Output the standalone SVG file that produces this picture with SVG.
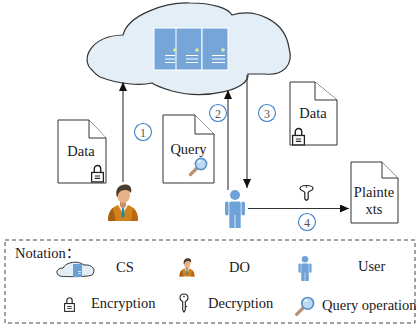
<svg xmlns="http://www.w3.org/2000/svg" xmlns:xlink="http://www.w3.org/1999/xlink" width="419" height="329" viewBox="0 0 419 329">
  <style>
    .txt { font-family: "Liberation Serif", "Times New Roman", "Noto Sans CJK SC", serif; font-size: 14.5px; fill: #1a1a1a; }
    .num { font-family: "Liberation Serif", "Times New Roman", serif; font-size: 12px; fill: #555; text-anchor: middle; }
    .doc { fill: #fff; stroke: #333; stroke-width: 1; }
    .conn { stroke: #333; stroke-width: 1.1; fill: none; }
    .badge { fill: #fff; stroke: #3f7fc6; stroke-width: 1.1; }
    .panel { fill: #76a6d8; stroke: #fff; stroke-width: 1; }
    .bar { stroke: #fff; stroke-width: 1; }
  </style>
  <defs>
    <marker id="arrow" markerUnits="userSpaceOnUse" markerWidth="9" markerHeight="8" refX="9" refY="4" orient="auto">
      <path d="M0,0 L9,4 L0,8 Z" fill="#111"/>
    </marker>
    <!-- data owner: business person -->
    <symbol id="do" viewBox="0 0 32 38">
      <path d="M1,38 C1,29 5,24 11,22 L21,22 C27,24 31,29 31,38 Z" fill="#d3811c"/>
      <path d="M1,38 C1,31 3,27 6,25 L9,38 Z" fill="#a9600e"/>
      <path d="M31,38 C31,31 29,27 26,25 L24,38 Z" fill="#b86a12"/>
      <path d="M11,22 L16,31 L21,22 Z" fill="#f4f4f4"/>
      <path d="M15,24 L17,24 L17.6,33 L16,35 L14.4,33 Z" fill="#1c8a9e"/>
      <path d="M13,17 L19,17 L19,23 L16,26 L13,23 Z" fill="#c98d63"/>
      <ellipse cx="16.5" cy="12" rx="6.5" ry="8" fill="#e8b287"/>
      <path d="M9.5,13 C8,4 14,1 19,1.5 C24,2 25,6 24,10 C22,7 18,6 14,8 C12,9 11,11 10.5,14 Z" fill="#4b3c30"/>
    </symbol>
    <!-- user: plain figure -->
    <symbol id="user" viewBox="0 0 20 38">
      <circle cx="10" cy="5" r="5" fill="#6fa3d8"/>
      <rect x="0" y="11.5" width="3.6" height="14" rx="1.8" fill="#6fa3d8"/>
      <rect x="16.4" y="11.5" width="3.6" height="14" rx="1.8" fill="#6fa3d8"/>
      <path d="M4.3,13 Q4.3,11.5 6,11.5 L14,11.5 Q15.7,11.5 15.7,13 L15.7,25 L4.3,25 Z" fill="#6fa3d8"/>
      <rect x="4.3" y="24" width="5.3" height="14" fill="#6fa3d8"/>
      <rect x="10.4" y="24" width="5.3" height="14" fill="#6fa3d8"/>
    </symbol>
    <!-- padlock -->
    <symbol id="lock" viewBox="0 0 14 18">
      <path d="M4,8.5 V5 A3,3 0 0 1 10,5 V8.5" fill="none" stroke="#222" stroke-width="1.3"/>
      <rect x="1.5" y="8.5" width="11" height="8.8" fill="#fff" stroke="#222" stroke-width="1.2"/>
      <path d="M4.5,11.8 H9.5 M4.5,14 H9.5" stroke="#222" stroke-width="1"/>
    </symbol>
    <!-- magnifying glass -->
    <symbol id="lens" viewBox="0 0 20 20">
      <path d="M2.5,17.5 L8.5,11.5" stroke="#b89274" stroke-width="3.2" stroke-linecap="round"/>
      <circle cx="13" cy="7" r="5.6" fill="#bcd8f2" stroke="#5b8fc9" stroke-width="1.6"/>
      <path d="M10,5.5 A3.3,3.3 0 0 1 13,3.6" fill="none" stroke="#fff" stroke-width="1.2"/>
    </symbol>
  </defs>

  <rect width="419" height="329" fill="#fff"/>

  <!-- cloud server -->
  <g id="cs">
    <path d="M92,70 C80,60 90,36 123,35 C128,15 165,2 190,3 C212,3 228,8 232,15 C255,8 285,20 289,48 C294,65 283,76 265,74 L248,74 C250,90 205,100 172,91 C162,88 156,86 152,83 C140,86 118,84 100,77 C96,75 94,72 92,70 Z" fill="#e3eef6" stroke="#333" stroke-width="1.2"/>
    <rect class="panel" x="154" y="28" width="26" height="42"/>
    <rect class="panel" x="176" y="28" width="26" height="42"/>
    <rect class="panel" x="202" y="28" width="26" height="42"/>
    <circle cx="175" cy="50" r="1.8" fill="#d8efa6"/>
    <circle cx="197" cy="50" r="1.8" fill="#d8efa6"/>
    <circle cx="223" cy="50" r="1.8" fill="#d8efa6"/>
    <path class="bar" d="M165,55.5 H175 M165,59 H175 M165,62.5 H175 M186,55.5 H198 M186,59 H198 M186,62.5 H198 M212,55.5 H225 M212,59 H225 M212,62.5 H225"/>
  </g>

  <!-- connectors -->
  <g id="connectors">
    <line class="conn" x1="123" y1="182" x2="123" y2="82" marker-end="url(#arrow)"/>
    <line class="conn" x1="228" y1="190" x2="228" y2="90" marker-end="url(#arrow)"/>
    <line class="conn" x1="247" y1="75" x2="247" y2="188" marker-end="url(#arrow)"/>
    <line class="conn" x1="248" y1="208.5" x2="349" y2="208.5" marker-end="url(#arrow)"/>
    <circle class="badge" cx="143" cy="132" r="8.5"/>
    <text class="num" x="143" y="136.5">1</text>
    <circle class="badge" cx="218" cy="113" r="8.5"/>
    <text class="num" x="218" y="117.5">2</text>
    <circle class="badge" cx="267" cy="113" r="8.5"/>
    <text class="num" x="267" y="117.5">3</text>
    <circle class="badge" cx="307" cy="222" r="8.5"/>
    <text class="num" x="307" y="226.5">4</text>
    <!-- decryption key on step 4 -->
    <path d="M300,188.5 C300,184.5 313,184.5 313,188.5 C313,191 309,190.5 308.2,192.5 L308.2,199 L306.5,200.5 L304.8,199 L304.8,192.5 C304,190.5 300,191 300,188.5 Z" fill="#fff" stroke="#222" stroke-width="1.2"/>
    <circle cx="306.5" cy="187" r="0.8" fill="#222"/>
  </g>

  <!-- encrypted data from owner -->
  <g id="doc-data-do">
    <path class="doc" d="M58,120 H89 L106,138 V183 H58 Z"/>
    <path class="doc" d="M89,120 V138 H106" fill="none"/>
    <text class="txt" x="81" y="156" text-anchor="middle">Data</text>
    <use href="#lock" x="90" y="163" width="15" height="20"/>
  </g>

  <!-- query -->
  <g id="doc-query">
    <path class="doc" d="M163,115 H195 L214,134 V183 H163 Z"/>
    <path class="doc" d="M195,115 V134 H214" fill="none"/>
    <text class="txt" x="188.5" y="154" text-anchor="middle">Query</text>
    <use href="#lens" x="188" y="157" width="20" height="20"/>
  </g>

  <!-- encrypted result -->
  <g id="doc-data-result">
    <path class="doc" d="M290,82 H315 L337,100 V145 H290 Z"/>
    <path class="doc" d="M315,82 V100 H337" fill="none"/>
    <text class="txt" x="313" y="118" text-anchor="middle">Data</text>
    <use href="#lock" x="291" y="126" width="15" height="20"/>
  </g>

  <!-- plaintexts -->
  <g id="doc-plaintexts">
    <path class="doc" d="M351,162 H382 L398,178 V223 H351 Z"/>
    <path class="doc" d="M382,162 V178 H398" fill="none"/>
    <text class="txt" x="374" y="197" text-anchor="middle">Plainte</text>
    <text class="txt" x="374" y="214" text-anchor="middle">xts</text>
  </g>

  <!-- data owner -->
  <g id="data-owner">
    <use href="#do" x="107" y="183" width="32" height="38"/>
  </g>

  <!-- user -->
  <g id="query-user">
    <use href="#user" x="225" y="190" width="20" height="38"/>
  </g>

  <!-- notation -->
  <g id="notation">
    <rect x="5" y="240" width="410" height="83" fill="none" stroke="#444" stroke-width="1" stroke-dasharray="4 3"/>
    <text class="txt" x="15" y="258">Notation：</text>
    <path d="M60,276 C55,274 56,268 63,268 C66,262 78,260 84,265 C92,264 97,270 92,275 C90,277 62,277 60,276 Z" fill="#e3eef6" stroke="#333" stroke-width="1"/>
    <rect x="73" y="264" width="9" height="13" fill="#6a9fd6"/>
    <path d="M78,271.5 H81 M78,273.5 H81" stroke="#fff" stroke-width="0.7"/>
    <text class="txt" x="116" y="272">CS</text>
    <use href="#do" x="179" y="257" width="16" height="20"/>
    <text class="txt" x="229" y="272">DO</text>
    <use href="#user" x="298" y="256" width="14" height="25"/>
    <text class="txt" x="358" y="271">User</text>
    <use href="#lock" x="63" y="296" width="13" height="16"/>
    <text class="txt" x="91" y="308">Encryption</text>
    <path d="M184,294 C181,294 180,296 180,298 C180,300 181.5,301 182.7,301.5 L182.7,310 L184,312 L185.3,310 L185.3,307 L186.3,306.5 L185.3,306 L185.3,301.5 C186.5,301 188,300 188,298 C188,296 187,294 184,294 Z" fill="#fff" stroke="#222" stroke-width="1.1"/>
    <circle cx="184" cy="296.5" r="0.8" fill="#222"/>
    <text class="txt" x="208" y="308">Decryption</text>
    <use href="#lens" x="294" y="296" width="21" height="21"/>
    <text class="txt" x="322" y="310">Query operation</text>
  </g>
</svg>
